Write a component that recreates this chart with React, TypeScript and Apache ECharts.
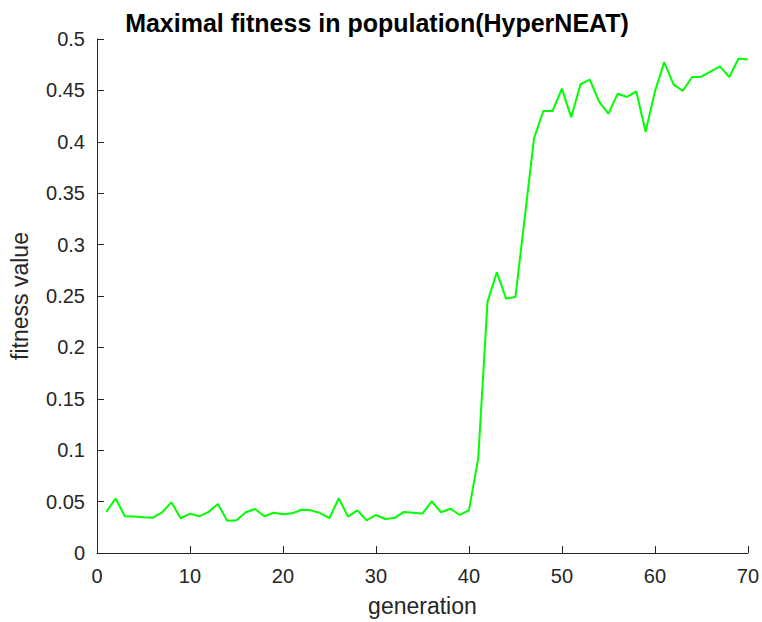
import React, { useEffect, useRef } from "react";
import * as echarts from "echarts";

const generations: number[] = Array.from({ length: 70 }, (_, i) => i + 1);

const maxFitness: number[] = [
  0.040, 0.053, 0.0357, 0.0354, 0.0347, 0.0344, 0.0396, 0.0493, 0.0338, 0.0383,
  0.0357, 0.040, 0.0477, 0.0314, 0.0318, 0.0396, 0.0428, 0.0357, 0.0392, 0.0376,
  0.0386, 0.0421, 0.0415, 0.0389, 0.034, 0.0532, 0.0354, 0.0415, 0.0318, 0.037,
  0.0331, 0.034, 0.040, 0.0392, 0.0383, 0.0503, 0.0396, 0.0431, 0.037, 0.0415,
  0.092, 0.2445, 0.273, 0.2475, 0.249, 0.326, 0.4034, 0.430, 0.430, 0.4517,
  0.4238, 0.456, 0.4604, 0.439, 0.4273, 0.4468, 0.4436, 0.449, 0.4098, 0.4488,
  0.4776, 0.4559, 0.4494, 0.463, 0.4633, 0.4686, 0.4734, 0.463, 0.481, 0.480,
];

const titleText = "Maximal fitness in population(HyperNEAT)";
const xName = "generation";
const yName = "fitness value";

const FONT = "Liberation Sans, Arial, sans-serif";
const AXIS_COLOR = "#262626";

export default function App() {
  const ref = useRef<HTMLDivElement>(null);

  useEffect(() => {
    if (!ref.current) return;
    const chart = echarts.init(ref.current, undefined, { renderer: "svg" });
    const axisCommon = {
      axisLine: { show: true, lineStyle: { color: AXIS_COLOR, width: 1 } },
      axisTick: { show: true, inside: true, length: 7, lineStyle: { color: AXIS_COLOR } },
      axisLabel: { color: "#262626", fontSize: 20, fontFamily: FONT },
      splitLine: { show: false },
      nameTextStyle: { color: "#262626", fontSize: 23, fontFamily: FONT },
    };
    chart.setOption({
      animation: false,
      backgroundColor: "#ffffff",
      title: {
        text: titleText,
        left: 372,
        top: 5,
        textAlign: "center",
        textStyle: { fontSize: 25, fontWeight: "bold", fontFamily: FONT, color: "#000" },
      },
      grid: { left: 97, right: 12, top: 39, bottom: 69, containLabel: false },
      xAxis: {
        type: "value",
        min: 0,
        max: 70,
        interval: 10,
        name: xName,
        nameLocation: "middle",
        nameGap: 41,
        ...axisCommon,
        axisLabel: { ...axisCommon.axisLabel, margin: 13 },
      },
      yAxis: {
        type: "value",
        min: 0,
        max: 0.5,
        interval: 0.05,
        name: yName,
        nameLocation: "middle",
        nameGap: 66,
        ...axisCommon,
        axisLabel: { ...axisCommon.axisLabel, margin: 12 },
      },
      series: [
        {
          type: "line",
          data: generations.map((g, i) => [g, maxFitness[i]]),
          showSymbol: false,
          lineStyle: { color: "#00ff00", width: 2 },
          itemStyle: { color: "#00ff00" },
        },
      ],
    });
    return () => chart.dispose();
  }, []);

  return <div ref={ref} style={{ width: 762, height: 622, position: "absolute", left: 0, top: 0 }} />;
}
